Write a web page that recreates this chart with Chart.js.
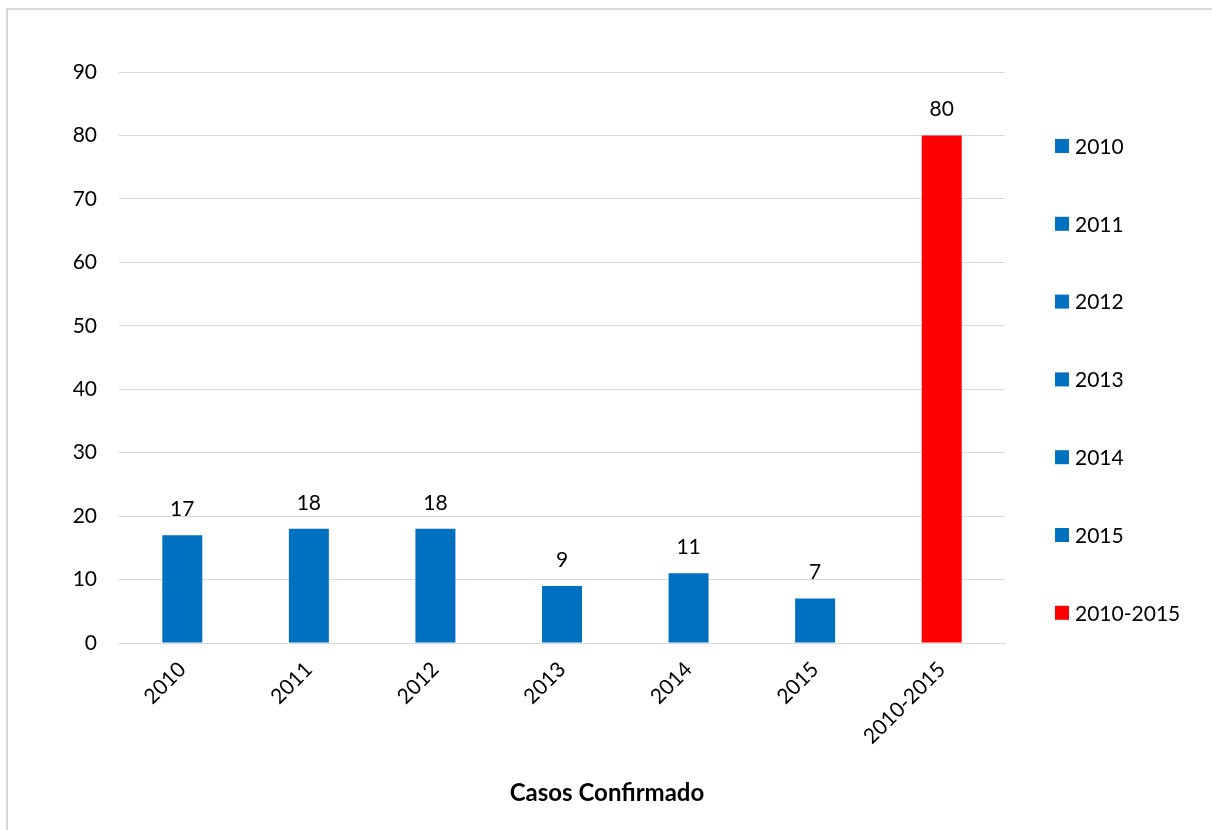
<!DOCTYPE html>
<html>
<head>
<meta charset="utf-8">
<script src="https://cdn.jsdelivr.net/npm/chart.js@4.4.0/dist/chart.umd.min.js"></script>
<style>
  html, body { margin: 0; padding: 0; background: #ffffff; }
  #wrap { position: relative; width: 1212px; height: 830px; }
</style>
</head>
<body>
<div id="wrap"><canvas id="c" width="1212" height="830"></canvas></div>
<script>
// ---- data ----
const categories = ["2010", "2011", "2012", "2013", "2014", "2015", "2010-2015"];
const casos = [17, 18, 18, 9, 11, 7, 80];
const barColors = ["#0070C0", "#0070C0", "#0070C0", "#0070C0", "#0070C0", "#0070C0", "#FF0000"];
const yTicks = [0, 10, 20, 30, 40, 50, 60, 70, 80, 90];
const xTitle = "Casos Confirmado";

const FONT = "Lato, 'Open Sans', 'DejaVu Sans', sans-serif";

// frame (left + top border like the cropped Excel chart)
const framePlugin = {
  id: 'frame',
  beforeDraw(chart) {
    const ctx = chart.ctx;
    ctx.save();
    ctx.fillStyle = '#ffffff';
    ctx.fillRect(0, 0, chart.width, chart.height);
    ctx.strokeStyle = '#d9d9d9';
    ctx.lineWidth = 2;
    ctx.beginPath();
    ctx.moveTo(7, chart.height);
    ctx.lineTo(7, 9);
    ctx.lineTo(chart.width, 9);
    ctx.stroke();
    ctx.restore();
  }
};

// value labels above bars
const valueLabels = {
  id: 'valueLabels',
  afterDatasetsDraw(chart) {
    const ctx = chart.ctx;
    const meta = chart.getDatasetMeta(0);
    ctx.save();
    ctx.font = "21px " + FONT;
    ctx.fillStyle = '#000000';
    ctx.textAlign = 'center';
    ctx.textBaseline = 'middle';
    meta.data.forEach((bar, i) => {
      ctx.fillText(String(chart.data.datasets[0].data[i]), bar.x, bar.y - 26);
    });
    ctx.restore();
  }
};

// axis title centred across the whole chart (Excel style)
const bottomTitle = {
  id: 'bottomTitle',
  afterDraw(chart) {
    const ctx = chart.ctx;
    ctx.save();
    ctx.font = "bold 24px " + FONT;
    ctx.fillStyle = '#000000';
    ctx.textAlign = 'center';
    ctx.textBaseline = 'middle';
    ctx.fillText(xTitle, 607, 793);
    ctx.restore();
  }
};

// legend on the right, one entry per category
const sideLegend = {
  id: 'sideLegend',
  afterDraw(chart) {
    const ctx = chart.ctx;
    const labels = chart.data.labels;
    const colors = chart.data.datasets[0].backgroundColor;
    const top = 146, step = 77.8, bx = 1055, tx = 1075, box = 14;
    ctx.save();
    ctx.font = "21px " + FONT;
    ctx.textAlign = 'left';
    ctx.textBaseline = 'middle';
    labels.forEach((lab, i) => {
      const y = top + i * step;
      ctx.fillStyle = colors[i];
      ctx.fillRect(bx, y - box / 2, box, box);
      ctx.fillStyle = '#000000';
      ctx.fillText(lab, tx, y + 1);
    });
    ctx.restore();
  }
};

new Chart(document.getElementById('c'), {
  type: 'bar',
  data: {
    labels: categories,
    datasets: [{
      label: xTitle,
      data: casos,
      backgroundColor: barColors,
      borderWidth: 0,
      barPercentage: 1.0,
      categoryPercentage: 0.316
    }]
  },
  options: {
    responsive: false,
    animation: false,
    devicePixelRatio: 1,
    layout: { padding: { top: 72, right: 207, bottom: 20, left: 0 } },
    plugins: {
      legend: { display: false },
      tooltip: { enabled: false },
      title: { display: false }
    },
    scales: {
      x: {
        grid: { display: false, drawTicks: false },
        border: { display: true, color: '#d9d9d9', width: 1 },
        ticks: {
          color: '#000000',
          font: { family: FONT, size: 21 },
          minRotation: 45,
          maxRotation: 45,
          padding: 14
        },
        title: { display: false },
        afterFit(scale) { scale.height = 830 - 643 - 20; }
      },
      y: {
        min: 0,
        max: 90,
        afterBuildTicks(scale) { scale.ticks = yTicks.map(v => ({ value: v })); },
        grid: { color: '#d9d9d9', lineWidth: 1, drawTicks: false },
        border: { display: false },
        ticks: {
          color: '#000000',
          font: { family: FONT, size: 21 },
          padding: 22
        },
        afterFit(scale) { scale.width = 119; }
      }
    }
  },
  plugins: [framePlugin, valueLabels, bottomTitle, sideLegend]
});
</script>
</body>
</html>
